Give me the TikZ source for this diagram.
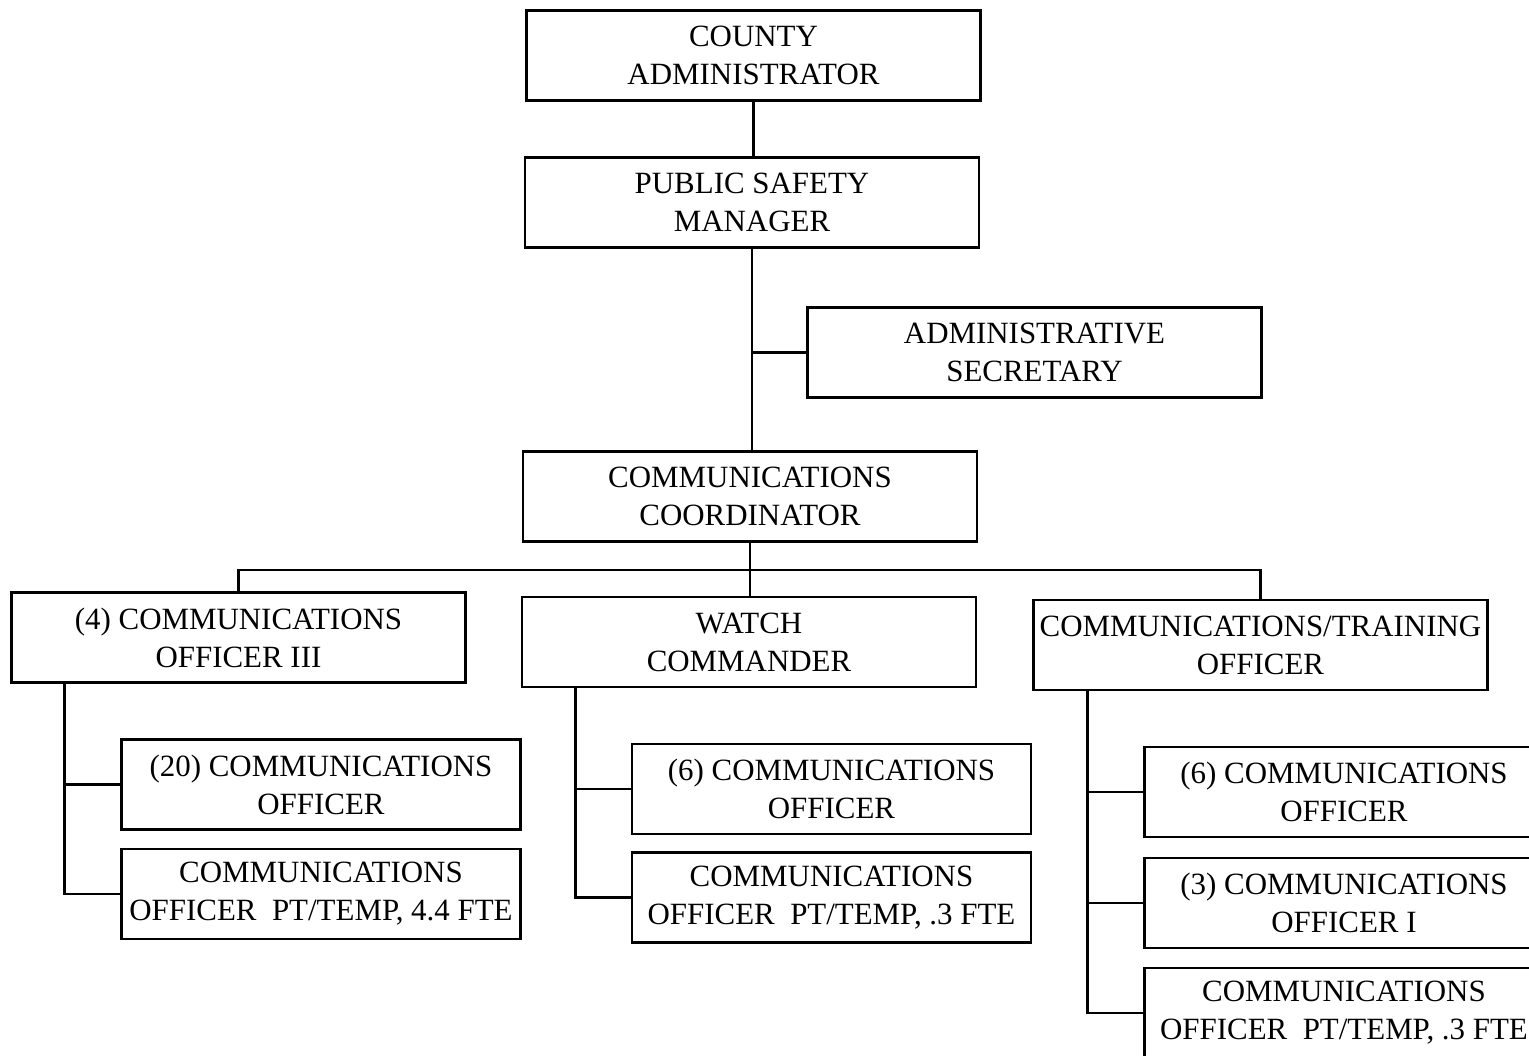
\documentclass[tikz,border=0pt]{standalone}
\usepackage{fontspec}
\setmainfont{Liberation Serif}
\usetikzlibrary{arrows,positioning}

\begin{document}
\begin{tikzpicture}[node distance=1.47cm]

\tikzstyle{box} = [rectangle, minimum width=4.54cm, minimum height=0.9cm, inner sep=0pt, align=center, text centered, draw=black, line width=0.8pt, font=\fontsize{8.8}{10.8}\selectfont]
\tikzstyle{sub} = [box, minimum width=3.99cm]
\tikzstyle{ln} = [line width=0.8pt]
\clip (0,0) rectangle (15.29,-10.55);
\node (admin) [box] at (7.535,-0.555) {COUNTY\\ADMINISTRATOR};
\node (psm) [box, below of=admin, xshift=-0.015cm] {PUBLIC SAFETY\\MANAGER};
\node (sec) [box, right of=psm, node distance=2.825cm, yshift=-1.5cm] {ADMINISTRATIVE\\SECRETARY};
\node (coord) [box, below of=psm, node distance=2.94cm, xshift=-0.02cm] {COMMUNICATIONS\\COORDINATOR};
\node (watch) [box, below of=coord, node distance=1.455cm, xshift=-0.01cm] {WATCH\\COMMANDER};
\node (off3) [box, left of=watch, node distance=5.105cm, yshift=0.045cm] {(4) COMMUNICATIONS\\OFFICER III};
\node (train) [box, right of=watch, node distance=5.115cm, yshift=-0.03cm] {COMMUNICATIONS/TRAINING\\OFFICER};
\node (l1) [sub, below of=off3, xshift=0.825cm] {(20) COMMUNICATIONS\\OFFICER};
\node (l2) [sub, below of=l1, node distance=1.095cm] {COMMUNICATIONS\\OFFICER~~PT/TEMP, 4.4 FTE};
\node (m1) [sub, below of=watch, xshift=0.825cm] {(6) COMMUNICATIONS\\OFFICER};
\node (m2) [sub, below of=m1, node distance=1.085cm] {COMMUNICATIONS\\OFFICER~~PT/TEMP, .3 FTE};
\node (r1) [sub, below of=train, xshift=0.835cm] {(6) COMMUNICATIONS\\OFFICER};
\node (r2) [sub, below of=r1, node distance=1.11cm] {(3) COMMUNICATIONS\\OFFICER I};
\node (r3) [sub, below of=r2, node distance=1.1cm] {COMMUNICATIONS\\OFFICER~~PT/TEMP, .3 FTE};
\coordinate (bus) at ([yshift=-0.27cm]coord.south);
\coordinate (lt) at ([xshift=0.54cm]off3.south west);
\coordinate (mt) at ([xshift=0.55cm]watch.south west);
\coordinate (rt) at ([xshift=0.55cm]train.south west);
\draw[ln] (admin.south) -- (admin.south |- psm.north);
\draw[ln] (psm.south) -- (psm.south |- coord.north);
\draw[ln] (sec.west) -- (sec.west -| psm.south);
\draw[ln] (coord.south) -- (coord.south |- watch.north);
\draw[ln] (off3.north) |- (bus) -| (train.north);
\draw[ln] (lt) |- (l2.west);
\draw[ln] (l1.west) -- (l1.west -| lt);
\draw[ln] (mt) |- (m2.west);
\draw[ln] (m1.west) -- (m1.west -| mt);
\draw[ln] (rt) |- (r3.west);
\draw[ln] (r1.west) -- (r1.west -| rt);
\draw[ln] (r2.west) -- (r2.west -| rt);
\end{tikzpicture}
\end{document}
